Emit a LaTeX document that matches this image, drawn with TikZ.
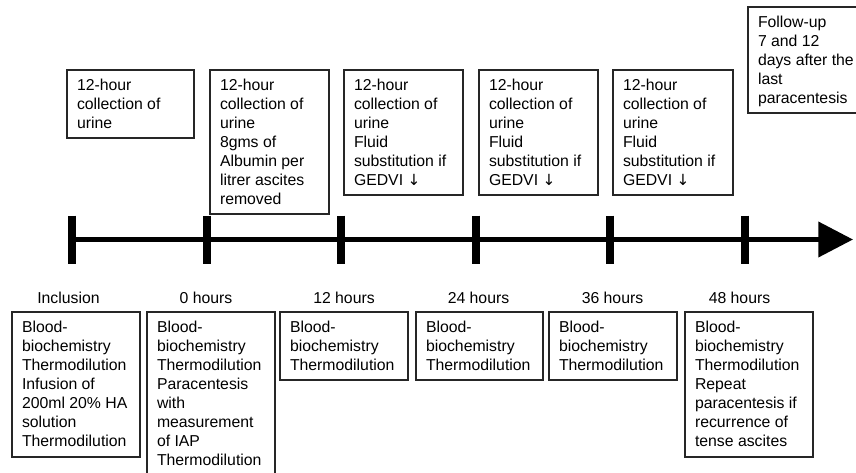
\documentclass[tikz,border=0pt]{standalone}
\usepackage{fontspec}
\setmainfont{Liberation Sans}
\newfontfamily\arrowfont{DejaVu Sans}
\newcommand{\darr}{{\arrowfont\fontsize{11.5}{14.25}\selectfont ↓}}
\usetikzlibrary{arrows.meta}
\newcommand{\tlbox}[6]{%
  \node[tbox] (#1) at (#2,#3) {\parbox[t][\dimexpr(#5pt-#3pt)*3/4-13pt\relax][t]{\dimexpr(#4pt-#2pt)*3/4-15pt\relax}{\raggedright #6}};}
\begin{document}
\begin{tikzpicture}[x=0.75pt,y=-0.75pt,
  tbox/.style={draw=black!85, line width=0.8pt, anchor=north west, inner xsep=7.5pt, inner ysep=6.5pt, outer sep=0pt,
    font=\fontsize{11.85}{14.25}\selectfont},
  tlabel/.style={anchor=base, inner sep=0pt, font=\fontsize{11.85}{14.25}\selectfont},
  timeline/.style={line width=3.75pt, -{Triangle[length=26pt,width=26pt]}},
  tickmark/.style={line width=6pt}]
\clip (0,0) rectangle (856,472);
% timeline
\coordinate (t0) at (72,239.5);
\coordinate (t1) at (206.5,239.5);
\coordinate (t2) at (341,239.5);
\coordinate (t3) at (476,239.5);
\coordinate (t4) at (610,239.5);
\coordinate (t5) at (744.5,239.5);
\coordinate (tend) at (853,239.5);
\draw[timeline] (t0) -- (tend);
\foreach \t in {t0,t1,t2,t3,t4,t5}{\draw[tickmark] (\t) ++(0,-24) -- ++(0,48);}
% top boxes
\tlbox{a}{67}{70}{194}{138}{12-hour\\collection of\\urine}
\tlbox{b}{210}{70}{329}{214}{12-hour\\collection of\\urine\\8gms of\\Albumin per\\litrer ascites\\removed}
\tlbox{c}{344}{70}{463}{195}{12-hour\\collection of\\urine\\Fluid\\substitution if\\GEDVI \darr}
\tlbox{d}{479}{70}{598}{195}{12-hour\\collection of\\urine\\Fluid\\substitution if\\GEDVI \darr}
\tlbox{e}{613}{70}{733}{195}{12-hour\\collection of\\urine\\Fluid\\substitution if\\GEDVI \darr}
\tlbox{f}{748}{7}{880}{113}{Follow-up\\7 and 12\\days after the\\last\\paracentesis}
% labels
\node[tlabel] (l0) at (68.5,303) {Inclusion};
\node[tlabel] (l1) at (206,303) {0 hours};
\node[tlabel] (l2) at (344,303) {12 hours};
\node[tlabel] (l3) at (478.5,303) {24 hours};
\node[tlabel] (l4) at (612.5,303) {36 hours};
\node[tlabel] (l5) at (739.5,303) {48 hours};
% bottom boxes
\tlbox{p}{12}{312}{140}{457}{Blood-\\biochemistry\\Thermodilution\\Infusion of\\200ml 20\% HA\\solution\\Thermodilution}
\tlbox{q}{147}{312}{275}{480}{Blood-\\biochemistry\\Thermodilution\\Paracentesis\\with\\measurement\\of IAP\\Thermodilution}
\tlbox{r}{280}{312}{408}{380}{Blood-\\biochemistry\\Thermodilution}
\tlbox{s}{416}{312}{543}{380}{Blood-\\biochemistry\\Thermodilution}
\tlbox{u}{549}{312}{677}{380}{Blood-\\biochemistry\\Thermodilution}
\tlbox{v}{685}{312}{813}{457}{Blood-\\biochemistry\\Thermodilution\\Repeat\\paracentesis if\\recurrence of\\tense ascites}
\end{tikzpicture}
\end{document}
